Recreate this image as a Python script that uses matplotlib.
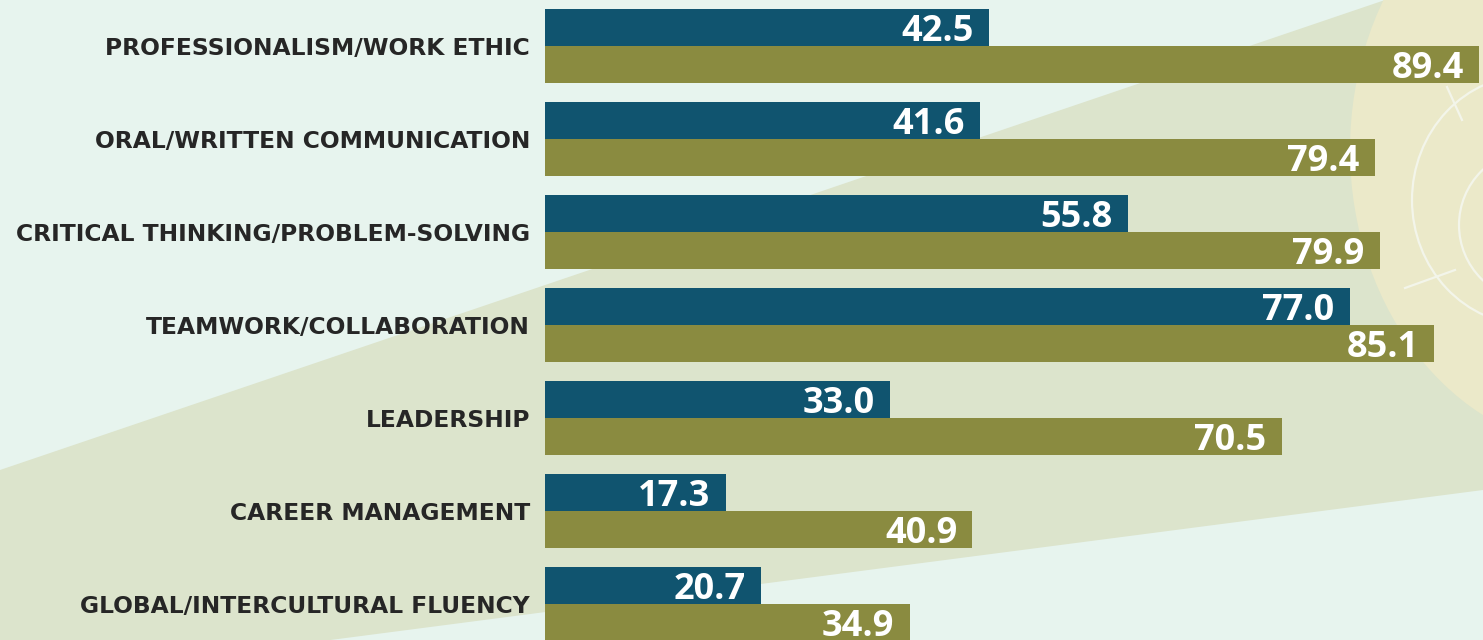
import matplotlib
matplotlib.use("Agg")
import matplotlib.pyplot as plt
from matplotlib.patches import Polygon, Ellipse, Circle

# ---- data -------------------------------------------------------------
categories = [
    "PROFESSIONALISM/WORK ETHIC",
    "ORAL/WRITTEN COMMUNICATION",
    "CRITICAL THINKING/PROBLEM-SOLVING",
    "TEAMWORK/COLLABORATION",
    "LEADERSHIP",
    "CAREER MANAGEMENT",
    "GLOBAL/INTERCULTURAL FLUENCY",
]
values_top = [42.5, 41.6, 55.8, 77.0, 33.0, 17.3, 20.7]
values_bottom = [89.4, 79.4, 79.9, 85.1, 70.5, 40.9, 34.9]

# ---- style ------------------------------------------------------------
W, H, DPI = 1483, 640, 100
MINT = "#e7f4ee"
BAND = "#dce4cc"
SUN = "#ebe9c9"
LINE = "#f3f5ea"
BLUE = "#10546f"
OLIVE = "#8a8b40"
TEXT = "#262626"

fig = plt.figure(figsize=(W / DPI, H / DPI), dpi=DPI)
fig.patch.set_facecolor(MINT)

# background decoration, in pixel coordinates
bg = fig.add_axes([0, 0, 1, 1], zorder=0)
bg.set_xlim(0, W)
bg.set_ylim(H, 0)
bg.axis("off")
bg.add_patch(Polygon([(0, 470), (1385, 0), (W, 0), (W, 490), (0, 683)],
                     closed=True, facecolor=BAND, edgecolor="none"))
bg.add_patch(Ellipse((1600, 150), 500, 600, facecolor=SUN, edgecolor="none"))
bg.add_patch(Ellipse((1530, 200), 236, 250, facecolor="none",
                     edgecolor=LINE, linewidth=1.6))
bg.add_patch(Circle((1535, 225), 76, facecolor="none",
                    edgecolor=LINE, linewidth=1.6))
bg.plot([1447, 1462], [87, 120], color=LINE, linewidth=1.6)
bg.plot([1405, 1455], [288, 270], color=LINE, linewidth=1.6)

# bar chart
left_px = 545
px_per_unit = 10.45
group_px = 93.0
first_center_px = 46.0

ax = fig.add_axes([left_px / W, 0, 1 - left_px / W, 1], zorder=1)
ax.patch.set_alpha(0)
ax.set_xlim(0, (W - left_px) / px_per_unit)
ax.set_ylim((H - first_center_px) / group_px, -first_center_px / group_px)

h = 0.395
pos = list(range(len(categories)))
ax.barh([p - h / 2 for p in pos], values_top, height=h, color=BLUE)
ax.barh([p + h / 2 for p in pos], values_bottom, height=h, color=OLIVE)

value_font = dict(family="Open Sans", weight="bold", size=26, color="white")
for p, v in zip(pos, values_top):
    ax.annotate(f"{v:.1f}", xy=(v, p - h / 2), xytext=(-11, -9.5),
                textcoords="offset points", ha="right", va="baseline",
                **value_font)
for p, v in zip(pos, values_bottom):
    ax.annotate(f"{v:.1f}", xy=(v, p + h / 2), xytext=(-11, -9.5),
                textcoords="offset points", ha="right", va="baseline",
                **value_font)

ax.set_yticks(pos)
ax.set_yticklabels(categories, fontsize=16.8, fontweight="bold",
                   family="DejaVu Sans", color=TEXT)
ax.tick_params(axis="y", length=0, pad=10.8)
ax.tick_params(axis="x", bottom=False, labelbottom=False)
for s in ax.spines.values():
    s.set_visible(False)

fig.savefig("out.png", dpi=DPI, facecolor=fig.get_facecolor())
